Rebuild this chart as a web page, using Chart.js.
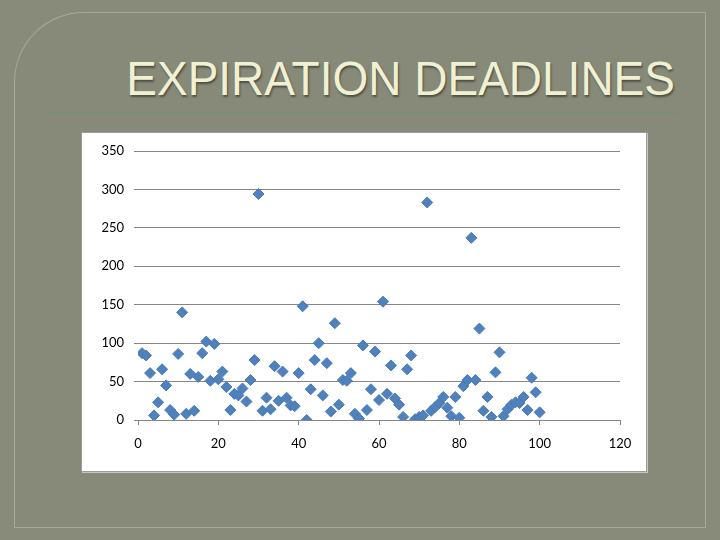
<!doctype html>
<html lang="en">

<head>
    <meta charset="utf-8">
    <title>Expiration Deadlines</title>
    <style>
        * {
            margin: 0;
            padding: 0;
        }

        body {
            width: 720px;
            height: 540px;
            overflow: hidden;
            background: #888a7a;
            position: relative;
        }

        .panel {
            position: absolute;
            left: 14px;
            top: 12px;
            right: 14px;
            bottom: 12px;
            background: #878979;
            border: 1px solid rgba(230, 230, 210, 0.35);
            border-top-left-radius: 70px;
        }

        .title {
            position: absolute;
            right: 45px;
            top: 51px;
            font-family: "Liberation Sans", Arial, sans-serif;
            font-size: 46px;
            color: #f0f0d2;
            text-shadow: 1px 2px 2px rgba(40, 40, 30, 0.6);
            white-space: nowrap;
            transform: scaleY(1.04);
        }

        .rule {
            position: absolute;
            left: 46px;
            top: 112px;
            width: 632px;
            height: 2px;
            background: #7c8d74;
        }

        .chartBox {
            position: absolute;
            left: 81px;
            top: 132px;
            width: 564px;
            height: 338px;
            background: white;
            border: 1px solid #9c9c94;
            box-shadow: 1px 1px 0 #c8c8c0;
        }
    </style>
</head>

<body>
    <div class="panel"></div>
    <div class="title">EXPIRATION DEADLINES</div>
    <div class="rule"></div>
    <div class="chartBox">
        <canvas id="myChart"></canvas>
    </div>

    <script src="https://cdn.jsdelivr.net/npm/chart.js"></script>

    <script>
        const xValues = [
            1, 2, 3, 4, 5, 6, 7, 8, 9, 10,
            11, 12, 13, 14, 15, 16, 17, 18, 19, 20,
            21, 22, 23, 24, 25, 26, 27, 28, 29, 30,
            31, 32, 33, 34, 35, 36, 37, 38, 39, 40,
            41, 42, 43, 44, 45, 46, 47, 48, 49, 50,
            51, 52, 53, 54, 55, 56, 57, 58, 59, 60,
            61, 62, 63, 64, 65, 66, 67, 68, 69, 70,
            71, 72, 73, 74, 75, 76, 77, 78, 79, 80,
            81, 82, 83, 84, 85, 86, 87, 88, 89, 90,
            91, 92, 93, 94, 95, 96, 97, 98, 99, 100
        ]
        const yValues = [
            87, 84, 61, 6, 23, 66, 45, 13, 7, 86,
            140, 8, 60, 12, 56, 87, 102, 51, 99, 53,
            63, 43, 13, 34, 32, 41, 24, 52, 78, 294,
            12, 29, 14, 70, 25, 63, 29, 19, 18, 61,
            148, 0, 40, 78, 100, 32, 74, 11, 126, 20,
            52, 51, 61, 8, 2, 97, 13, 40, 89, 26,
            154, 34, 71, 28, 20, 4, 66, 84, 1, 4,
            6, 283, 12, 17, 22, 30, 16, 5, 30, 3,
            44, 52, 237, 52, 119, 12, 30, 4, 62, 88,
            5, 14, 20, 23, 22, 30, 13, 55, 36, 10
        ]
        const xTicks = [0, 20, 40, 60, 80, 100, 120]
        const yTicks = [0, 50, 100, 150, 200, 250, 300, 350]

        const points = xValues.map((x, i) => ({ x: x, y: yValues[i] }))

        const tickFont = { family: 'Lato, "Open Sans", sans-serif', size: 13 }

        const config = {
            type: 'scatter',
            data: {
                datasets: [{
                    data: points,
                    pointStyle: 'rectRot',
                    pointRadius: 5.5,
                    pointHoverRadius: 5.5,
                    backgroundColor: '#4f81bd',
                    borderColor: '#4a7ab5',
                    borderWidth: 1
                }]
            },
            options: {
                responsive: true,
                maintainAspectRatio: false,
                animation: false,
                layout: {
                    padding: { top: 18, right: 26, bottom: 0, left: 0 }
                },
                plugins: {
                    legend: { display: false },
                    tooltip: { enabled: false }
                },
                scales: {
                    x: {
                        type: 'linear',
                        min: 0,
                        max: 120,
                        afterBuildTicks: axis => { axis.ticks = xTicks.map(v => ({ value: v })) },
                        afterFit: axis => { axis.height = 51 },
                        grid: {
                            drawOnChartArea: false,
                            drawTicks: true,
                            tickLength: 5,
                            color: '#868686'
                        },
                        border: { display: true, color: '#868686', width: 1 },
                        ticks: { color: '#000', font: tickFont, padding: 11, maxRotation: 0 }
                    },
                    y: {
                        min: 0,
                        max: 350,
                        afterBuildTicks: axis => { axis.ticks = yTicks.map(v => ({ value: v })) },
                        afterFit: axis => { axis.width = 56 },
                        grid: {
                            color: '#868686',
                            tickLength: 4,
                            drawTicks: true
                        },
                        border: { display: false },
                        ticks: { color: '#000', font: tickFont, padding: 10 }
                    }
                }
            }
        };

        const myChart = new Chart(
            document.getElementById('myChart'),
            config
        );
    </script>
</body>

</html>
